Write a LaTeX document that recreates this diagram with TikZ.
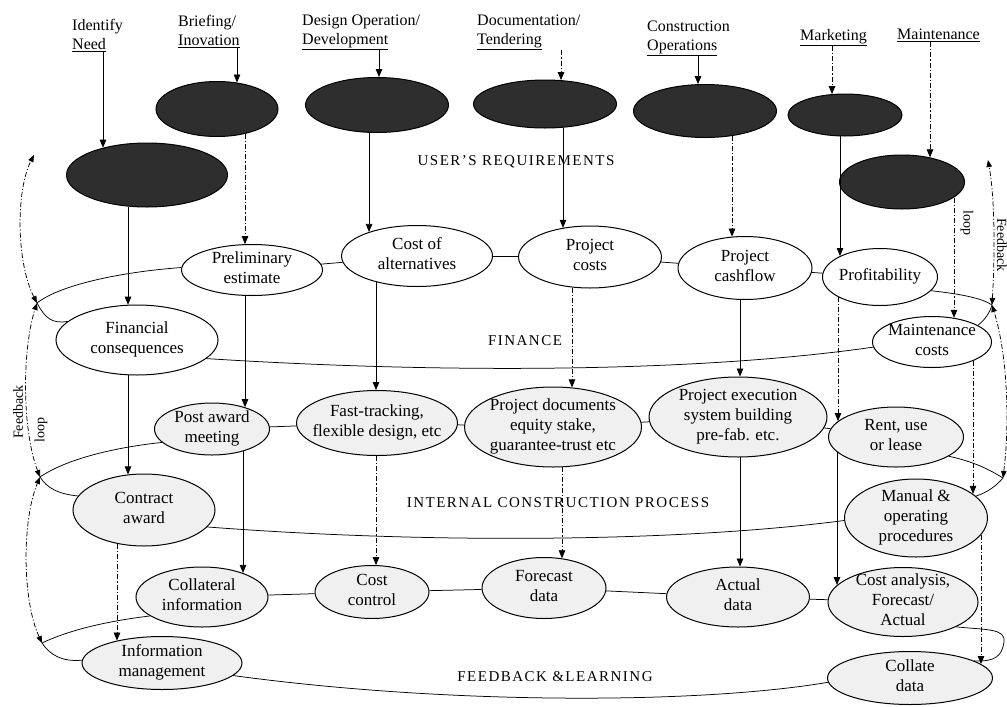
\documentclass[tikz,border=0pt]{standalone}
\usepackage{fontspec}
\setmainfont{Liberation Serif}
\usetikzlibrary{shapes.geometric,arrows.meta,calc}

% centred multi-line text that does not change the size of its ellipse
\newcommand\ot[1]{\raisebox{-4pt}[0pt][0pt]{\makebox[0pt]{\begin{tabular}{@{}c@{}}#1\end{tabular}}}}

\tikzset{
  every node/.style={inner sep=0pt},
  ovl/.style={ellipse, draw, line width=1pt, fill=white, font=\fontsize{17}{20}\selectfont},
  ovlS/.style={ovl, fill=black!6},
  darkov/.style={ellipse, draw, line width=1pt, fill=black!82},
  cline/.style={line width=0.75pt},
  dline/.style={cline, dash pattern=on 5pt off 2pt on 1.2pt off 2pt},
  headarr/.style={-{Triangle[length=8pt,width=6.5pt]}},
  dblarr/.style={dline, {Triangle[length=7pt,width=5.5pt]}-{Triangle[length=7pt,width=5.5pt]}},
  stagelab/.style={anchor=north west, align=left, font=\fontsize{16}{19}\selectfont},
  bandlab/.style={font=\fontsize{15}{18}\selectfont\addfontfeatures{LetterSpace=10}},
  fbnote/.style={font=\fontsize{14}{16}\selectfont},
}

% vertical arrow at abscissa #4 from the lower border of ellipse #2 to the upper border of ellipse #3
\newcommand\conn[4][]{%
  \draw[cline,headarr,#1] let \p1=(#2.center), \p2=(#2.east), \p3=(#2.south),
      \p4=(#3.center), \p5=(#3.east), \p6=(#3.north),
      \n1={\x2-\x1}, \n2={\y1-\y3}, \n3={\x5-\x4}, \n4={\y6-\y4},
      \n5={(#4pt-\x1)/\n1}, \n6={(#4pt-\x4)/\n3}
    in (#4pt, {(\y1-\n2*sqrt(max(0,1-\n5*\n5)))*1pt})
       -- (#4pt, {(\y4+\n4*sqrt(max(0,1-\n6*\n6)))*1pt});
}
% vertical arrow at abscissa #4 from under the heading #2 to the upper border of ellipse #3
\newcommand\labconn[4][]{%
  \draw[cline,headarr,#1] let \p1=(#2.south),
      \p4=(#3.center), \p5=(#3.east), \p6=(#3.north),
      \n3={\x5-\x4}, \n4={\y6-\y4}, \n6={(#4pt-\x4)/\n3}
    in (#4pt, \y1) -- (#4pt, {(\y4+\n4*sqrt(max(0,1-\n6*\n6)))*1pt});
}

\begin{document}
\begin{tikzpicture}[x=1pt,y=-1pt]
\fill[white] (0,0) rectangle (1007,707);
\useasboundingbox (0,0) rectangle (1007,707);

% ---- project stages ----
\node[stagelab] (sNeed)  at (72,19)  {Identify\\\underline{Need}};
\node[stagelab] (sBrief) at (178,15) {Briefing/\\\underline{Inovation}};
\node[stagelab] (sDes)   at (302,15) {Design Operation/\\\underline{Development}};
\node[stagelab] (sDoc)   at (477,15) {Documentation/\\\underline{Tendering}};
\node[stagelab] (sCons)  at (647,21) {Construction\\\underline{Operations}};
\node[stagelab] (sMark)  at (800,29) {\underline{Marketing}};
\node[stagelab] (sMaint) at (897,29) {\underline{Maintenance}};

% ---- stage activities ----
\node[darkov, minimum width=122, minimum height=55] (e1) at (217,109) {};
\node[darkov, minimum width=143, minimum height=55] (e2) at (377,105) {};
\node[darkov, minimum width=143, minimum height=48] (e3) at (545,104) {};
\node[darkov, minimum width=143, minimum height=53] (e4) at (705,111) {};
\node[darkov, minimum width=114, minimum height=42] (e5) at (845,115) {};
\node[darkov, minimum width=161, minimum height=64] (e6) at (147,175) {};
\node[darkov, minimum width=125, minimum height=54] (e7) at (902,182) {};

% ---- band labels ----
\node[bandlab] (bUser) at (516,162) {USER'S REQUIREMENTS};
\node[bandlab] (bFin)  at (525,341) {FINANCE};
\node[bandlab] (bInt)  at (558,503) {INTERNAL CONSTRUCTION PROCESS};
\node[bandlab] (bFb)   at (555,677) {FEEDBACK \&LEARNING};

% ---- finance ----
\node[ovl, minimum width=141, minimum height=51] (prelim)    at (252,270) {\ot{Preliminary\\estimate}};
\node[ovl, minimum width=151, minimum height=61] (costalt)   at (417,256) {\ot{Cost of\\alternatives}};
\node[ovl, minimum width=143, minimum height=62] (projcosts) at (590,257) {\ot{Project\\costs}};
\node[ovl, minimum width=134, minimum height=63] (cashflow)  at (745,268) {\ot{Project\\cashflow}};
\node[ovl, minimum width=115, minimum height=57] (profit)    at (880,277) {\ot{Profitability}};
\node[ovl, minimum width=162, minimum height=70] (fincons)   at (137,340) {\ot{Financial\\consequences}};
\node[ovl, minimum width=119, minimum height=51] (maintc)    at (932,342) {\ot{Maintenance\\costs}};

% ---- internal construction process ----
\node[ovlS, minimum width=115, minimum height=52] (postaward) at (212,429) {\ot{Post award\\meeting}};
\node[ovlS, minimum width=161, minimum height=65] (fasttrack) at (377,423) {\ot{Fast-tracking,\\flexible design, etc}};
\node[ovlS, minimum width=177, minimum height=80] (projdocs)  at (553,427) {\ot{Project documents\\equity stake,\\guarantee-trust etc}};
\node[ovlS, minimum width=178, minimum height=80] (projexec)  at (738,417) {\ot{Project execution\\system building\\pre-fab. etc.}};
\node[ovlS, minimum width=135, minimum height=60] (rent)      at (896,437) {\ot{Rent, use\\or lease}};
\node[ovlS, minimum width=142, minimum height=72] (contract)  at (144,510) {\ot{Contract\\award}};
\node[ovlS, minimum width=143, minimum height=78] (manual)    at (916,518) {\ot{Manual \&\\operating\\procedures}};

% ---- feedback and learning ----
\node[ovlS, minimum width=132, minimum height=60] (collat)   at (202,597) {\ot{Collateral\\information}};
\node[ovlS, minimum width=114, minimum height=53] (costctrl) at (372,592) {\ot{Cost\\control}};
\node[ovlS, minimum width=124, minimum height=61] (forecast) at (544,588) {\ot{Forecast\\data}};
\node[ovlS, minimum width=143, minimum height=60] (actual)   at (738,597) {\ot{Actual\\data}};
\node[ovlS, minimum width=150, minimum height=69] (costan)   at (903,602) {\ot{Cost analysis,\\Forecast/\\Actual}};
\node[ovlS, minimum width=160, minimum height=53] (infom)    at (162,663) {\ot{Information\\management}};
\node[ovlS, minimum width=165, minimum height=53] (collate)  at (910,678) {\ot{Collate\\data}};

% ---- loop vertices ----
\coordinate (UL) at (34,155);   \coordinate (UR) at (988,160);
\coordinate (FL) at (37,303);   \coordinate (FR) at (992,305);
\coordinate (IL) at (40,477);   \coordinate (IR) at (1003,478);
\coordinate (LL) at (42,643);   \coordinate (LR) at (1004,642);

% ---- finance loop ----
\draw[cline] (prelim.178) .. controls (120,272) and (60,285) .. (FL);
\draw[cline] (prelim) -- (costalt);
\draw[cline] (costalt) -- (projcosts);
\draw[cline] (projcosts) -- (cashflow);
\draw[cline] (cashflow) -- (profit);
\draw[cline] (profit.345) .. controls (960,294) and (982,298) .. (FR);
\draw[cline] (FL) .. controls (45,318) and (52,324) .. (fincons.165);
\draw[cline] (fincons.345) .. controls (450,374) and (700,372) .. (maintc.185);
\draw[cline] (maintc.20) .. controls (985,320) and (990,312) .. (FR);

% ---- internal construction loop ----
\draw[cline] (postaward.195) .. controls (110,448) and (65,460) .. (IL);
\draw[cline] (postaward) -- (fasttrack);
\draw[cline] (fasttrack) -- (projdocs);
\draw[cline] (projdocs) -- (projexec);
\draw[cline] (projexec) -- (rent);
\draw[cline] (rent.340) .. controls (975,462) and (990,470) .. (IR);
\draw[cline] (IL) .. controls (47,488) and (58,494) .. (contract.168);
\draw[cline] (contract.345) .. controls (430,544) and (680,542) .. (manual.182);
\draw[cline] (manual.20) .. controls (988,492) and (996,486) .. (IR);

% ---- feedback and learning loop ----
\draw[cline] (collat.200) .. controls (100,622) and (65,632) .. (LL);
\draw[cline] (collat) -- (costctrl);
\draw[cline] (costctrl) -- (forecast);
\draw[cline] (forecast) -- (actual);
\draw[cline] (actual) -- (costan);
\draw[cline] (costan.335) .. controls (985,630) and (1006,628) .. (LR)
             .. controls (1002,656) and (995,662) .. (collate.15);
\draw[cline] (LL) .. controls (50,655) and (62,662) .. (infom.178);
\draw[cline] (infom.350) .. controls (450,705) and (700,704) .. (collate.183);

% ---- feedback loops between the bands ----
\draw[dblarr] (FL) .. controls (16,262) and (16,190) .. (UL);
\draw[dblarr] (IL) .. controls (22,430) and (22,350) .. (FL);
\draw[dblarr] (LL) .. controls (22,600) and (22,520) .. (IL);
\draw[dblarr] (FR) .. controls (995,255) and (995,200) .. (UR);
\draw[dblarr] (IR) .. controls (1009,430) and (1009,360) .. (FR);
\node[fbnote, rotate=90]  (fbL1) at (18,412)  {Feedback};
\node[fbnote, rotate=90]  (fbL2) at (41,430)  {loop};
\node[fbnote, rotate=-90] (fbR1) at (1002,245) {Feedback};
\node[fbnote, rotate=-90] (fbR2) at (967,223)  {loop};

% ---- stages to activities ----
\labconn{sNeed}{e6}{103}
\labconn{sBrief}{e1}{237}
\labconn{sDes}{e2}{379}
\labconn[dline]{sDoc}{e3}{561}
\labconn{sCons}{e4}{698}
\labconn[dline]{sMark}{e5}{832}
\labconn[dline]{sMaint}{e7}{930}

% ---- activities down through the bands ----
\conn{e6}{fincons}{128}
\conn[dline]{e1}{prelim}{245}
\conn{e2}{costalt}{369}
\conn{e3}{projcosts}{563}
\conn[dline]{e4}{cashflow}{732}
\conn{e5}{profit}{840}
\conn[dline]{e7}{maintc}{954}

\conn{prelim}{postaward}{245}
\conn{costalt}{fasttrack}{376}
\conn[dline]{projcosts}{projdocs}{572}
\conn{cashflow}{projexec}{740}
\conn[dline]{profit}{rent}{838}
\conn{fincons}{contract}{128}
\conn[dline]{maintc}{manual}{973}

\conn{postaward}{collat}{243}
\conn[dline]{fasttrack}{costctrl}{376}
\conn[dline]{projdocs}{forecast}{562}
\conn{projexec}{actual}{740}
\conn{rent}{costan}{837}
\conn[dline]{contract}{infom}{117}
\conn[dline]{manual}{collate}{981}
\end{tikzpicture}
\end{document}
